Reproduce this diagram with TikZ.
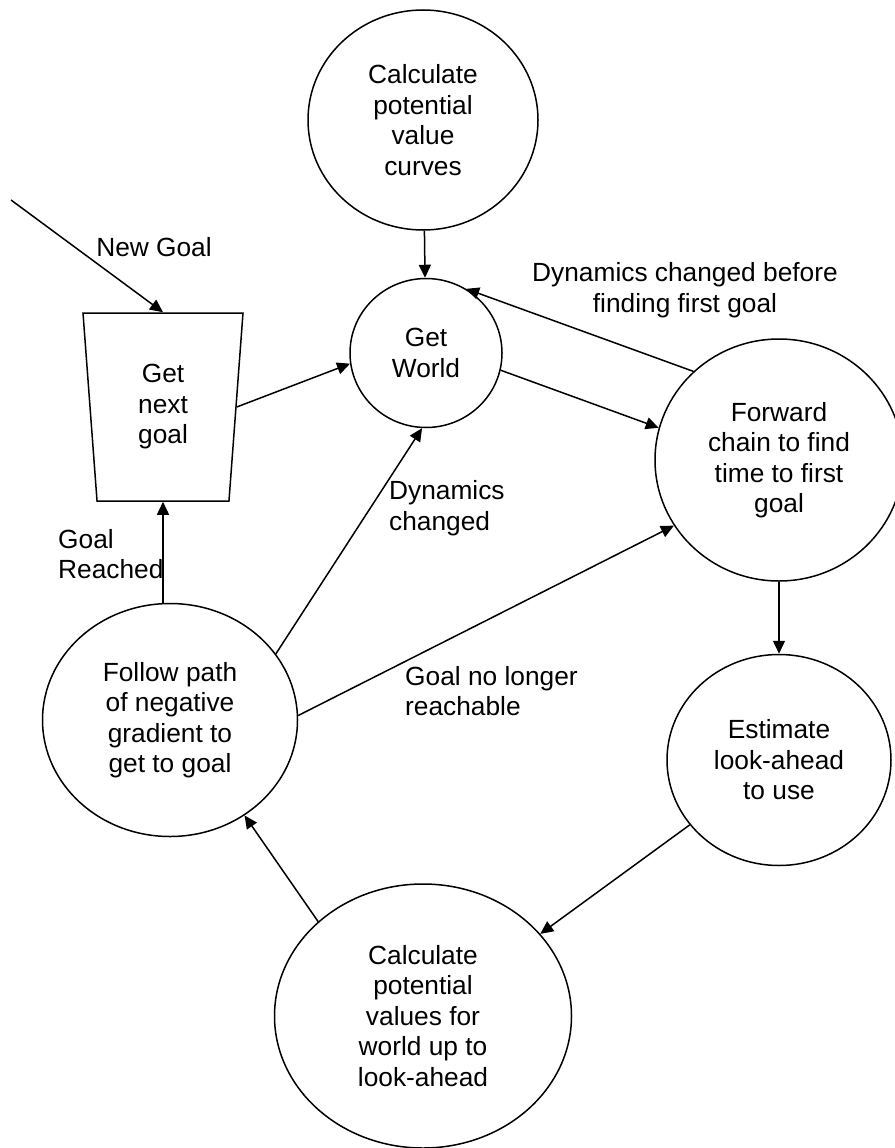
\documentclass[tikz,border=0pt]{standalone}
\usepackage{fontspec}
\setmainfont{Liberation Sans}
\usepackage{tikz}
\usetikzlibrary{shapes.geometric,arrows.meta,positioning}

\begin{document}
\begin{tikzpicture}[x=1pt,y=-1pt,font=\fontsize{26.3}{30.5}\selectfont,
  st/.style={draw,ellipse,line width=1.5pt,inner sep=0pt,align=center},
  lbl/.style={inner sep=0pt,align=left},
  arr/.style={-{Triangle[length=13pt,width=12pt]},line width=1.5pt}]
\useasboundingbox (0,0) rectangle (894,1148);
\node[st,minimum width=230pt,minimum height=220pt] (curves) at (423,120) {Calculate\\potential\\value\\curves};
\node[st,minimum width=152pt,minimum height=149pt,below=47pt of curves,xshift=3pt] (world) {Get\\World};
\node[st,minimum width=248pt,minimum height=242pt] (forward) at (779,460) {Forward\\chain to find\\time to first\\goal};
\node[st,minimum width=224pt,minimum height=211pt,below=72pt of forward] (estimate) {Estimate\\look-ahead\\to use};
\node[st,minimum width=297pt,minimum height=264pt] (values) at (423,1016) {Calculate\\potential\\values for\\world up to\\look-ahead};
\node[st,minimum width=255pt,minimum height=233pt] (follow) at (170,720) {Follow path\\of negative\\gradient to\\get to goal};
\node[draw,trapezium,shape border rotate=180,trapezium angle=80.6,trapezium stretches body,
  minimum width=160pt,minimum height=188pt,line width=1.5pt,inner sep=0pt,align=center] (nextgoal) at (163,407) {Get\\next\\goal};
\coordinate (newin) at (11,200);
% labels
\node[lbl] (lnew) at (154,247) {New Goal};
\node[lbl,anchor=west] (lreached) at (58,554) {Goal\\Reached};
\node[lbl,anchor=west] (ldyn) at (389,508) {Dynamics\\changed};
\node[lbl,anchor=west] (lnoreach) at (405,691) {Goal no longer\\reachable};
\node[lbl,align=center] (lbefore) at (685,290) {Dynamics changed before\\finding first goal};
% connectors
\draw[arr] (newin)--(nextgoal.north); \draw[arr] (curves)--(world);
\draw[arr] (nextgoal.east)--(world.188); \draw[arr] (world.-13)--(forward.165);
\draw[arr] (forward.134)--(world.58); \draw[arr] (forward)--(estimate);
\draw[arr] (estimate.216)--(values.35); \draw[arr] (values.138)--(follow.-52);
\draw[arr] (follow.north -| nextgoal.south)--(nextgoal.south);
\draw[arr] (follow.32)--(world.-93); \draw[arr] (follow.2)--(forward.212);
\end{tikzpicture}
\end{document}
